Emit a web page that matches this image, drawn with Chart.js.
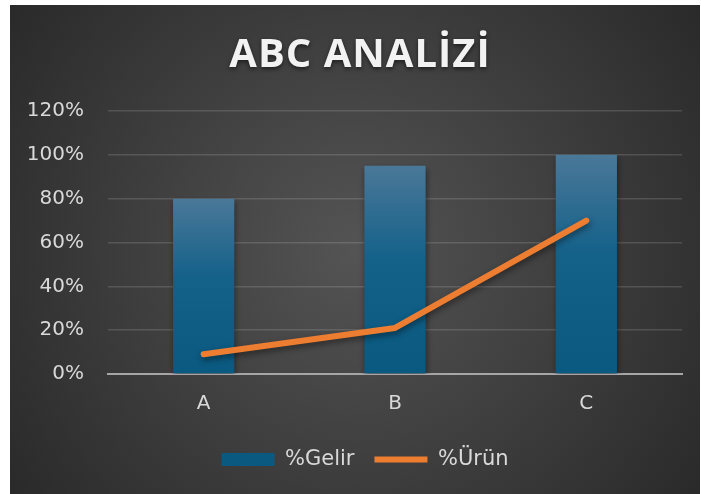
<!DOCTYPE html>
<html>
<head>
<meta charset="utf-8">
<script src="https://cdn.jsdelivr.net/npm/chart.js@4.4.1/dist/chart.umd.min.js"></script>
<style>
  html, body { margin: 0; padding: 0; background: #fff; }
  #wrap { width: 701px; height: 494px; }
</style>
</head>
<body>
<div id="wrap"><canvas id="graph" width="701" height="494"></canvas></div>
<script>
const titleText = "ABC ANALİZİ";
const categories = ["A", "B", "C"];
const gelir = [0.80, 0.95, 1.00];   // %Gelir bars
const urun = [0.09, 0.21, 0.70];    // %Ürün line
const yMax = 1.2;
const yStep = 0.2;

const TITLE_FONT = "'Open Sans', 'Noto Sans', sans-serif";
const FONT = "'DejaVu Sans', 'Noto Sans', sans-serif";

// dark panel with a soft radial light in the middle
const backdrop = {
  id: "backdrop",
  beforeDraw(chart) {
    const c = chart.ctx;
    c.save();
    c.fillStyle = "#ffffff";
    c.fillRect(0, 0, chart.width, chart.height);
    const g = c.createRadialGradient(355, 250, 0, 355, 250, 440);
    g.addColorStop(0, "#545454");
    g.addColorStop(1, "#282828");
    c.fillStyle = g;
    c.fillRect(10, 5, 690, 489);
    c.restore();
  }
};

const titlePlugin = {
  id: "spacedTitle",
  afterDraw(chart) {
    const c = chart.ctx;
    c.save();
    c.font = "bold 40px " + TITLE_FONT;
    c.letterSpacing = "1px";
    c.textAlign = "center";
    c.textBaseline = "alphabetic";
    c.shadowColor = "rgba(0,0,0,0.55)";
    c.shadowBlur = 4;
    c.shadowOffsetY = 2;
    c.fillStyle = "#f2f2f2";
    c.fillText(titleText, 360, 67);
    c.restore();
  }
};

// legend in the original sits a little right of the canvas centre
const legendNudge = {
  id: "legendNudge",
  afterLayout(chart) {
    chart.legend.left += 14;
    chart.legend.right += 14;
  }
};

// soft drop shadow under bars and line
const shadows = {
  id: "shadows",
  beforeDatasetDraw(chart) {
    const c = chart.ctx;
    c.save();
    c.shadowColor = "rgba(0,0,0,0.45)";
    c.shadowBlur = 6;
    c.shadowOffsetX = 1;
    c.shadowOffsetY = 3;
  },
  afterDatasetDraw(chart) {
    chart.ctx.restore();
  }
};

function barFill(ctx) {
  const chart = ctx.chart;
  const y = chart.scales.y;
  if (!y || ctx.type !== "data") return "#0f5d85";
  const top = y.getPixelForValue(ctx.raw);
  const bottom = y.getPixelForValue(0);
  if (!isFinite(top) || !isFinite(bottom) || top === bottom) return "#0f5d85";
  const g = chart.ctx.createLinearGradient(0, top, 0, bottom);
  g.addColorStop(0, "#4a7898");
  g.addColorStop(0.45, "#14618a");
  g.addColorStop(1, "#0a5980");
  return g;
}

window.onload = () => {
  const ctx = document.getElementById("graph").getContext("2d");
  new Chart(ctx, {
    type: "bar",
    data: {
      labels: categories,
      datasets: [
        {
          label: "%Gelir",
          data: gelir,
          backgroundColor: barFill,
          borderWidth: 0,
          categoryPercentage: 1,
          barPercentage: 0.32,
          pointStyle: "rect",
          order: 2
        },
        {
          type: "line",
          label: "%Ürün",
          data: urun,
          borderColor: "#ed7d31",
          backgroundColor: "#ed7d31",
          borderWidth: 6,
          borderCapStyle: "round",
          borderJoinStyle: "round",
          pointRadius: 0,
          pointStyle: "line",
          tension: 0,
          order: 1
        }
      ]
    },
    options: {
      responsive: false,
      animation: false,
      layout: { padding: { top: 111, left: 20, right: 19, bottom: 14 } },
      scales: {
        x: {
          grid: { display: false },
          border: { display: true, color: "#a6a6a6", width: 2 },
          ticks: { color: "#d9d9d9", font: { family: FONT, size: 20 }, padding: 10 },
          afterFit: s => { s.height = 55; }
        },
        y: {
          min: 0,
          max: yMax,
          grid: { color: "rgba(230,230,230,0.16)", lineWidth: 1.5, drawTicks: false },
          border: { display: false },
          ticks: {
            stepSize: yStep,
            color: "#d9d9d9",
            font: { family: FONT, size: 20 },
            padding: 24,
            callback: v => Math.round(v * 100) + "%"
          },
          afterFit: s => { s.width = 88; }
        }
      },
      plugins: {
        title: { display: false },
        tooltip: { enabled: false },
        legend: {
          position: "bottom",
          labels: {
            usePointStyle: true,
            pointStyleWidth: 53,
            boxHeight: 13,
            padding: 20,
            color: "#d9d9d9",
            font: { family: FONT, size: 21 },
            sort: (a, b) => a.datasetIndex - b.datasetIndex
          }
        }
      }
    },
    plugins: [backdrop, shadows, titlePlugin, legendNudge]
  });
};
</script>
</body>
</html>
